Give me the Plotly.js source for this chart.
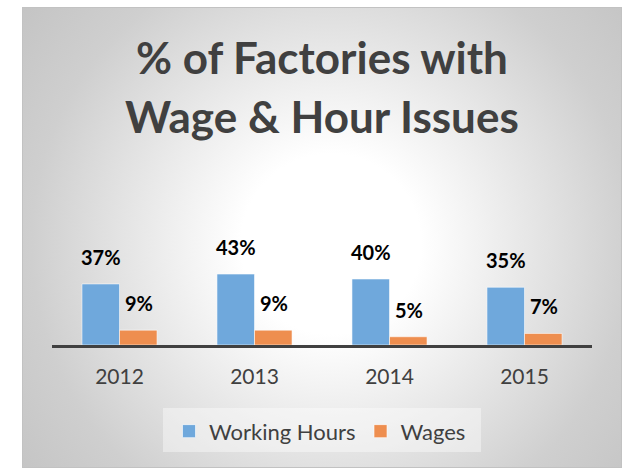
<!DOCTYPE html>
<html>
<head>
<meta charset="utf-8">
<script src="https://cdn.plot.ly/plotly-3.0.1.min.js"></script>
<style>
  html, body { margin: 0; padding: 0; background: #ffffff; }
  #wrap { position: relative; width: 626px; height: 469px; }
  #panel {
    position: absolute; left: 22px; top: 7px; width: 598px; height: 459px;
    border: 1px solid #c2c2c2;
    background: radial-gradient(circle at 308px 236px, #ffffff 0px, #ffffff 90px, #dedede 235px, #cfcfcf 300px, #c4c4c4 390px);
  }
  #chart { position: absolute; left: 0; top: 0; width: 626px; height: 469px; }
</style>
</head>
<body>
<div id="wrap">
  <div id="panel"></div>
  <div id="chart"></div>
</div>
<script>
// ---- data ----
const titleLines = ["% of Factories with", "Wage & Hour Issues"];
const years = ["2012", "2013", "2014", "2015"];
const seriesNames = ["Working Hours", "Wages"];
const workingHours = [37, 43, 40, 35];
const wages = [9, 9, 5, 7];
const seriesColors = ["#6FA8DC", "#EE8E4F"];

const seriesValues = [workingHours, wages];

const traces = [];
seriesValues.forEach((vals, i) => {
  traces.push({
    type: "bar",
    name: seriesNames[i],
    x: years,
    y: vals,
    showlegend: false,
    marker: { color: seriesColors[i], line: { color: "rgba(255,255,255,0.55)", width: 1 } },
    hoverinfo: "skip"
  });
});
// legend entries (square swatches)
seriesNames.forEach((n, i) => {
  traces.push({
    type: "scatter", mode: "markers", name: n,
    x: [null], y: [null],
    marker: { symbol: "square", size: 13, color: seriesColors[i], line: { color: "rgba(255,255,255,0.6)", width: 1 } },
    hoverinfo: "skip"
  });
});

const FONT = "Lato, 'Open Sans', sans-serif";
const annotations = [];
// title lines
const titleY = [2.91, 2.31];
titleLines.forEach((t, k) => {
  annotations.push({
    xref: "paper", yref: "paper", x: 0.5, y: titleY[k],
    xanchor: "center", yanchor: "middle", showarrow: false,
    text: "<b>" + t + "</b>",
    font: { family: FONT, size: 44, color: "#404040" }
  });
});
// data labels
const xshifts = [-19, 19];
seriesValues.forEach((vals, i) => {
  vals.forEach((v, j) => {
    annotations.push({
      xref: "x", yref: "y", x: j, y: v,
      xanchor: "center", yanchor: "bottom", showarrow: false,
      xshift: xshifts[i], yshift: 13,
      text: "<b>" + v + "%</b>",
      font: { family: FONT, size: 20, color: "#000000" }
    });
  });
});

const layout = {
  width: 626, height: 469,
  margin: { l: 52, r: 34, t: 246, b: 124, pad: 0 },
  paper_bgcolor: "rgba(0,0,0,0)",
  plot_bgcolor: "rgba(0,0,0,0)",
  barmode: "group",
  bargap: 0.444,
  bargroupgap: 0,
  showlegend: true,
  legend: {
    orientation: "h",
    x: (169 - 52) / 540, xanchor: "left",
    y: -0.66, yanchor: "top",
    bgcolor: "rgba(0,0,0,0)",
    borderwidth: 0,
    font: { family: FONT, size: 22, color: "#404040" },
    itemclick: false, itemdoubleclick: false
  },
  xaxis: {
    type: "category",
    range: [-0.5, 3.5], autorange: false,
    showline: true, linecolor: "#404040", linewidth: 3,
    showgrid: false, zeroline: false, ticks: "",
    ticklabelstandoff: 11,
    tickfont: { family: FONT, size: 21, color: "#404040" },
    fixedrange: true
  },
  yaxis: {
    visible: false, range: [0, 60], fixedrange: true,
    showgrid: false, zeroline: false
  },
  shapes: [{
    type: "rect", xref: "paper", yref: "paper",
    x0: (163 - 52) / 540, x1: (481 - 52) / 540,
    y0: (345 - 452) / 99, y1: (345 - 408) / 99,
    fillcolor: "rgba(255,255,255,0.4)", line: { width: 0 }, layer: "below"
  }],
  annotations: annotations
};

Plotly.newPlot("chart", traces, layout, { displayModeBar: false, staticPlot: true });
</script>
</body>
</html>
